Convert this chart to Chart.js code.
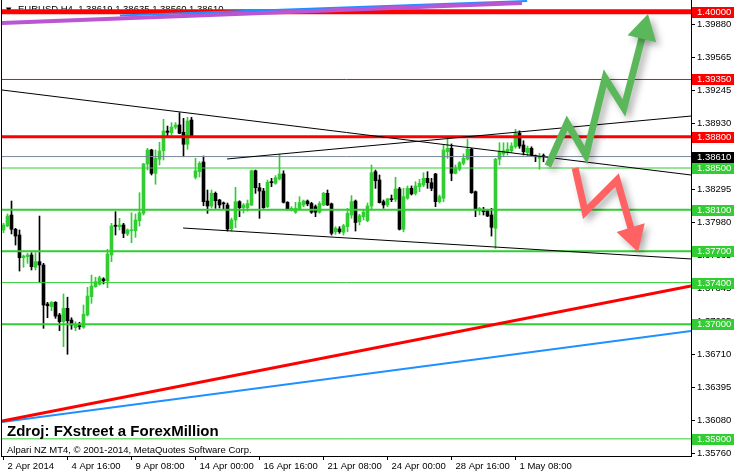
<!DOCTYPE html>
<html>
<head>
<meta charset="utf-8">
<script src="https://cdn.jsdelivr.net/npm/chart.js@4.4.1/dist/chart.umd.min.js"></script>
<style>
html,body{margin:0;padding:0;background:#fff;overflow:hidden}
#wrap{width:734px;height:475px;position:relative}
</style>
</head>
<body>
<div id="wrap"><canvas id="c" width="734" height="475"></canvas></div>
<script>
// ---------------- DATA ----------------
const symbolName = 'EURUSD,H4';
const opens = [1.37905,1.37943,1.38049,1.37912,1.37857,1.37639,1.37649,1.37665,1.37547,1.37601,
1.37569,1.37195,1.37169,1.37211,1.37089,1.37025,1.37153,1.37041,1.36967,1.36986,
1.36971,1.37089,1.37265,1.37361,1.37384,1.37435,1.37418,1.37665,1.37946,1.37937,
1.37953,1.37867,1.37898,1.37898,1.37995,1.38065,1.38539,1.38673,1.38449,1.38584,
1.38666,1.38855,1.38839,1.38892,1.38913,1.38843,1.38728,1.38961,1.38411,1.38465,
1.38558,1.38183,1.38135,1.38257,1.38193,1.38162,1.38145,1.37915,1.38001,1.38177,
1.38119,1.38119,1.38145,1.38474,1.38311,1.38279,1.38129,1.38369,1.38353,1.38395,
1.38443,1.38171,1.38097,1.38076,1.38107,1.38145,1.38183,1.38159,1.38129,1.38076,
1.38145,1.38257,1.38156,1.37888,1.37915,1.37883,1.37937,1.38049,1.38183,1.37985,
1.38033,1.37995,1.38135,1.38465,1.38385,1.38177,1.38145,1.38203,1.38200,1.38299,
1.37912,1.38210,1.38305,1.38257,1.38321,1.38337,1.38401,1.38359,1.38443,1.38177,
1.38210,1.38657,1.38689,1.38449,1.38488,1.38545,1.38584,1.38680,1.38273,1.38090,
1.38104,1.38090,1.38049,1.37921,1.38584,1.38635,1.38647,1.38666,1.38704,1.38833,
1.38721,1.38647,1.38689,1.38615,1.38593,1.38619];
const highs = [1.37969,1.38059,1.38183,1.37921,1.37905,1.37665,1.37681,1.37687,1.37687,1.38039,
1.37585,1.37211,1.37217,1.37217,1.37105,1.37291,1.37260,1.37063,1.37025,1.37019,
1.37185,1.37355,1.37473,1.37451,1.37463,1.37447,1.37720,1.37969,1.38081,1.38017,
1.37969,1.37915,1.38071,1.38059,1.38263,1.38545,1.38689,1.38680,1.38673,1.38747,
1.38968,1.38903,1.38936,1.38936,1.39031,1.38977,1.38987,1.38987,1.38593,1.38561,
1.38615,1.38289,1.38289,1.38270,1.38200,1.38174,1.38164,1.38020,1.38315,1.38186,
1.38159,1.38193,1.38481,1.38481,1.38353,1.38305,1.38385,1.38401,1.38427,1.38632,
1.38474,1.38177,1.38129,1.38171,1.38225,1.38193,1.38193,1.38171,1.38145,1.38177,
1.38267,1.38289,1.38164,1.37937,1.37937,1.37960,1.38113,1.38235,1.38193,1.38056,
1.38097,1.38164,1.38529,1.38481,1.38433,1.38193,1.38210,1.38241,1.38411,1.38315,
1.38305,1.38328,1.38328,1.38369,1.38391,1.38455,1.38465,1.38401,1.38449,1.38241,
1.38721,1.38776,1.38731,1.38529,1.38561,1.38635,1.38776,1.38689,1.38280,1.38123,
1.38123,1.38104,1.38113,1.38593,1.38743,1.38743,1.38743,1.38743,1.38872,1.38857,
1.38762,1.38711,1.38704,1.38625,1.38642,1.38635];
const lows = [1.37879,1.37937,1.37867,1.37761,1.37511,1.37547,1.37585,1.37521,1.37521,1.37399,
1.36961,1.37063,1.37130,1.37057,1.36938,1.36785,1.36712,1.36952,1.36938,1.36952,
1.36961,1.37079,1.37201,1.37355,1.37377,1.37387,1.37351,1.37601,1.37857,1.37905,
1.37831,1.37850,1.37783,1.37835,1.37943,1.38049,1.38481,1.38433,1.38344,1.38529,
1.38577,1.38801,1.38817,1.38875,1.38829,1.38608,1.38680,1.38801,1.38395,1.38414,
1.38138,1.38065,1.38116,1.38113,1.38116,1.38107,1.37895,1.37895,1.37927,1.38033,
1.38068,1.38087,1.38138,1.38257,1.38017,1.38113,1.38119,1.38321,1.38344,1.38385,
1.38164,1.38097,1.38087,1.38065,1.38097,1.38129,1.38138,1.38065,1.38033,1.38065,
1.38138,1.38140,1.37857,1.37864,1.37873,1.37857,1.37888,1.38017,1.37895,1.37953,
1.38001,1.37985,1.38097,1.38305,1.38164,1.38113,1.38129,1.38177,1.38177,1.37905,
1.37888,1.38200,1.38241,1.38241,1.38273,1.38321,1.38305,1.38282,1.38129,1.38164,
1.38177,1.38593,1.38378,1.38443,1.38474,1.38529,1.38577,1.38257,1.38033,1.38049,
1.38049,1.38033,1.37847,1.37729,1.38529,1.38608,1.38625,1.38647,1.38689,1.38689,
1.38625,1.38615,1.38615,1.38561,1.38488,1.38560];
const closes = [1.37953,1.38039,1.37912,1.37847,1.37639,1.37655,1.37665,1.37553,1.37601,1.37569,
1.37185,1.37178,1.37211,1.37079,1.37025,1.37153,1.37034,1.36993,1.36993,1.36977,
1.37096,1.37271,1.37367,1.37409,1.37447,1.37418,1.37675,1.37943,1.37941,1.37953,
1.37873,1.37905,1.37905,1.38001,1.38071,1.38539,1.38673,1.38449,1.38593,1.38663,
1.38855,1.38843,1.38892,1.38913,1.38833,1.38728,1.38951,1.38807,1.38474,1.38545,
1.38177,1.38135,1.38257,1.38186,1.38145,1.38156,1.37915,1.38001,1.38177,1.38119,
1.38145,1.38159,1.38474,1.38311,1.38279,1.38119,1.38363,1.38359,1.38407,1.38443,
1.38171,1.38107,1.38113,1.38113,1.38168,1.38183,1.38156,1.38076,1.38076,1.38159,
1.38257,1.38145,1.37873,1.37921,1.37888,1.37946,1.38065,1.38177,1.37977,1.38042,
1.38076,1.38135,1.38455,1.38378,1.38168,1.38145,1.38203,1.38196,1.38299,1.37912,
1.38225,1.38305,1.38251,1.38328,1.38353,1.38401,1.38359,1.38305,1.38177,1.38225,
1.38673,1.38689,1.38449,1.38503,1.38551,1.38593,1.38680,1.38263,1.38097,1.38113,
1.38081,1.38039,1.37931,1.38584,1.38657,1.38666,1.38680,1.38711,1.38833,1.38711,
1.38657,1.38689,1.38625,1.38608,1.38615,1.38610];

const timeLabels = ['2 Apr 2014','4 Apr 16:00','9 Apr 08:00','14 Apr 00:00','16 Apr 16:00','21 Apr 08:00','24 Apr 00:00','28 Apr 16:00','1 May 08:00'];
const timeLabelBars = [0,16,32,48,64,80,96,112,128];
const priceTicks = [1.39880,1.39565,1.39245,1.38930,1.38610,1.38295,1.37980,1.37665,1.37345,1.37025,1.36710,1.36395,1.36080,1.35760];

// horizontal levels
const levels = [1.40000,1.39350,1.38800,1.38610,1.38500,1.38100,1.37700,1.37400,1.37000,1.35900];

// trend lines (bar index, price)
const trendDown   = [{x:-0.375,y:1.39249},{x:171.875,y:1.38433}];
const trendUpper  = [{x:55.9,y:1.38587},{x:171.875,y:1.38999}];
const trendLower  = [{x:44.9,y:1.37924},{x:171.875,y:1.37627}];
const trendRed    = [{x:-0.375,y:1.36071},{x:171.875,y:1.37367}];
const trendBlue   = [{x:-0.375,y:1.36062},{x:171.875,y:1.36935}];
const trendPurple = [{x:-0.375,y:1.39892},{x:129.6,y:1.40084}];
const trendBlueTop= [{x:29.1,y:1.39964},{x:130.9,y:1.40103}];

// scenario arrows (bar index, price)
const greenArrow = [{x:136.1,y:1.38519},{x:140.9,y:1.38932},{x:145.6,y:1.38625},{x:150.4,y:1.39364},{x:155.1,y:1.39076},{x:160.1,y:1.39820}];
const redArrow   = [{x:142.9,y:1.38500},{x:145.4,y:1.38078},{x:153.4,y:1.38385},{x:157.4,y:1.37850}];

// ---------------- STYLE ----------------
const X_MIN = -0.375, X_MAX = 171.875;
const Y_MIN = 1.357354, Y_MAX = 1.40113;
const UP = '#32CD32', DOWN = '#000000';
const levelColors = ['#FF0000','#FF0000','#FF0000','#778899','#32CD32','#32CD32','#32CD32','#32CD32','#32CD32','#32CD32'];
const levelWidths = [5,1,3,1,1,2,2,1,2,1];
const levelLabelBg = ['#FF0000','#FF0000','#FF0000','#000000','#32CD32','#32CD32','#32CD32','#32CD32','#32CD32','#32CD32'];
const FONT = "'Liberation Sans', Arial, sans-serif";

const idx = opens.map((_, i) => i);
const isUp = i => closes[i] >= opens[i];

function lineDs(points, color, width, order, extra) {
  return Object.assign({type:'line', data:points, borderColor:color, borderWidth:width,
    pointRadius:0, pointHoverRadius:0, fill:false, tension:0, order:order,
    clip:{left:0,top:0,right:0,bottom:0}, borderCapStyle:'butt'}, extra||{});
}

const datasets = [];
// arrows (top)
datasets.push(lineDs(greenArrow, '#5AB85A', 7, 0, {
  shadow:true, borderJoinStyle:'miter',
  pointRadius: c => c.dataIndex === greenArrow.length-1 ? 17 : 0,
  pointStyle:'triangle', pointRotation:14, pointBackgroundColor:'#5AB85A', pointBorderWidth:0, clip:false}));
datasets.push(lineDs(redArrow, '#FF6262', 7, 0, {
  shadow:true, borderJoinStyle:'miter',
  pointRadius: c => c.dataIndex === redArrow.length-1 ? 17 : 0,
  pointStyle:'triangle', pointRotation:163, pointBackgroundColor:'#FF6262', pointBorderWidth:0, clip:false}));
// trend lines
datasets.push(lineDs(trendPurple, '#BA55D3', 4, 2));
datasets.push(lineDs(trendBlueTop, '#1E90FF', 2, 2.5));
datasets.push(lineDs(trendDown, '#000', 1, 2));
datasets.push(lineDs(trendUpper, '#000', 1, 2));
datasets.push(lineDs(trendLower, '#000', 1, 2));
datasets.push(lineDs(trendRed, '#FF0000', 3, 2));
datasets.push(lineDs(trendBlue, '#1E90FF', 2, 2.2));
// level lines
levels.forEach((v, k) => {
  datasets.push(lineDs([{x:X_MIN,y:v},{x:X_MAX,y:v}], levelColors[k], levelWidths[k], 4));
});
// candles
datasets.push({type:'bar', data: idx.map(i => ({x:i, y:[opens[i], closes[i]]})),
  backgroundColor: c => isUp(c.dataIndex) ? UP : DOWN, barThickness:3, minBarLength:1,
  grouped:false, order:8, borderWidth:0});
datasets.push({type:'bar', data: idx.map(i => ({x:i, y:[lows[i], highs[i]]})),
  backgroundColor: c => isUp(c.dataIndex) ? UP : DOWN, barThickness:1, minBarLength:1,
  grouped:false, order:9, borderWidth:0});

const shadowPlugin = {
  id:'shadowPlugin',
  beforeDatasetDraw(chart, args) {
    if (chart.data.datasets[args.index].shadow) {
      const c = chart.ctx; c.save();
      c.shadowColor = 'rgba(0,0,0,0.3)'; c.shadowBlur = 7; c.shadowOffsetX = 4; c.shadowOffsetY = 4;
    }
  },
  afterDatasetDraw(chart, args) {
    if (chart.data.datasets[args.index].shadow) chart.ctx.restore();
  }
};

const overlay = {
  id:'overlay',
  beforeDatasetsDraw(chart) {
    const ctx = chart.ctx; const n = opens.length - 1;
    ctx.save();
    ctx.fillStyle = '#000';
    ctx.textBaseline = 'alphabetic';
    ctx.font = "7px 'DejaVu Sans'";
    ctx.fillText('\u25BC', 6, 12);
    ctx.font = '9.5px ' + FONT;
    ctx.fillText(symbolName + '  ' + [opens[n], highs[n], lows[n], closes[n]].map(v => v.toFixed(5)).join(' '), 18, 12);
    ctx.restore();
  },
  afterDraw(chart) {
    const {ctx, chartArea} = chart; const y = chart.scales.y;
    ctx.save();
    ctx.fillStyle = '#000';
    ctx.fillRect(chartArea.left - 1, chartArea.top, 1, chartArea.bottom - chartArea.top + 1);
    ctx.font = '9.5px ' + FONT;
    ctx.textBaseline = 'middle';
    ctx.textAlign = 'left';
    levels.forEach((v, k) => {
      const py = Math.round(y.getPixelForValue(v));
      ctx.fillStyle = levelLabelBg[k];
      ctx.fillRect(chartArea.right + 1, py - 5, 734 - chartArea.right - 1, 11);
      ctx.fillStyle = '#fff';
      ctx.fillText(v.toFixed(5), chartArea.right + 6, py + 0.5);
    });
    ctx.fillStyle = '#000';
    ctx.textBaseline = 'alphabetic';
    ctx.font = 'bold 15px ' + FONT;
    ctx.fillText('Zdroj: FXstreet a ForexMillion', 7, 436);
    ctx.font = '9.5px ' + FONT;
    ctx.fillText('Alpari NZ MT4, \u00A9 2001-2014, MetaQuotes Software Corp.', 7, 453);
    ctx.restore();
  }
};

Chart.defaults.font.family = FONT;
Chart.defaults.font.size = 9.5;
Chart.defaults.color = '#000';

new Chart(document.getElementById('c'), {
  type:'bar',
  data:{datasets},
  plugins:[shadowPlugin, overlay],
  options:{
    responsive:false, animation:false, devicePixelRatio:1,
    layout:{autoPadding:false, padding:{left:2, top:0, right:0, bottom:0}},
    plugins:{legend:{display:false}, tooltip:{enabled:false}},
    events:[],
    scales:{
      x:{
        type:'linear', min:X_MIN, max:X_MAX, offset:false,
        afterBuildTicks: s => { s.ticks = timeLabelBars.map(v => ({value:v})); },
        afterFit: s => { s.height = 19; s.paddingLeft = 0; s.paddingRight = 0; },
        ticks:{autoSkip:false, maxRotation:0, minRotation:0, align:'start', labelOffset:4, padding:1,
          callback: v => { const k = timeLabelBars.indexOf(v); return k < 0 ? '' : timeLabels[k]; }},
        grid:{drawOnChartArea:false, drawTicks:true, tickLength:4, color:'#000', offset:false},
        border:{display:true, color:'#000', width:1}
      },
      y:{
        type:'linear', position:'right', min:Y_MIN, max:Y_MAX,
        afterBuildTicks: s => { s.ticks = priceTicks.map(v => ({value:v})); },
        afterFit: s => { s.width = 43; s.paddingTop = 0; s.paddingBottom = 0; },
        ticks:{padding:2, callback: v => Number(v).toFixed(5)},
        grid:{drawOnChartArea:false, drawTicks:true, tickLength:4, color:'#000'},
        border:{display:true, color:'#000', width:1}
      }
    }
  }
});
</script>
</body>
</html>
